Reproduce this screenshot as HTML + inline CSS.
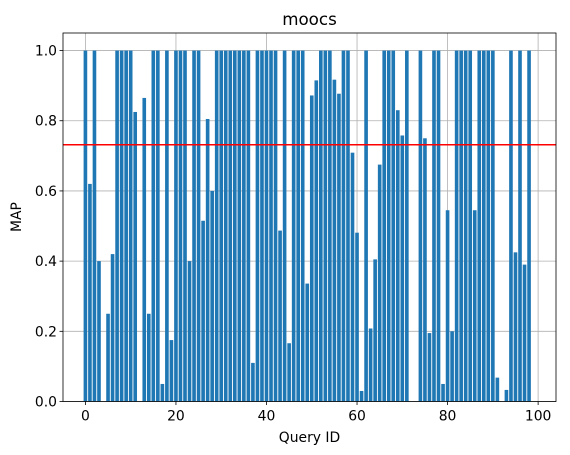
<!DOCTYPE html>
<html><head><meta charset="utf-8"><style>
html,body{margin:0;padding:0;background:#fff}
svg{display:block;font-family:"DejaVu Sans","Liberation Sans",sans-serif}
</style></head><body>
<svg id="chart" width="570" height="455" xmlns="http://www.w3.org/2000/svg">
<text x="309.5" y="25" font-size="16.7" text-anchor="middle">moocs</text>
<text x="309.5" y="442" font-size="13.9" text-anchor="middle">Query ID</text>
<text x="0" y="0" font-size="13.9" text-anchor="middle" transform="translate(21,217) rotate(-90)">MAP</text>
<g id="grid"></g><g id="bars"></g><g id="mean"></g><g id="axes"></g>
</svg>
<script>
const values = [1,0.62,1,0.40,0,0.25,0.42,1,1,1,
1,0.825,0,0.865,0.25,1,1,0.05,1,0.175,
1,1,1,0.40,1,1,0.515,0.805,0.60,1,
1,1,1,1,1,1,1,0.11,1,1,
1,1,1,0.487,1,0.166,1,1,1,0.336,
0.872,0.915,1,1,1,0.917,0.877,1,1,0.709,
0.481,0.03,1,0.208,0.405,0.675,1,1,1,0.83,
0.758,1,0,0,1,0.75,0.195,1,1,0.05,
0.545,0.20,1,1,1,1,0.545,1,1,1,
1,0.068,0,0.033,1,0.425,1,0.39,1,0];
const xTicks = [0,20,40,60,80,100];
const yTicks = [0.0,0.2,0.4,0.6,0.8,1.0];
const yTickLabels = ["0.0","0.2","0.4","0.6","0.8","1.0"];
const NS="http://www.w3.org/2000/svg";
const L=63,R=556,T=33,B=401.5;
const xmin=-4.95,xmax=103.95,ymin=0,ymax=1.05;
function xs(v){return L+(v-xmin)/(xmax-xmin)*(R-L);}
function ys(v){return B-(v-ymin)/(ymax-ymin)*(B-T);}
function mk(tag,attrs,parent){const e=document.createElementNS(NS,tag);for(const k in attrs)e.setAttribute(k,attrs[k]);parent.appendChild(e);return e;}
const grid=document.getElementById('grid'),bars=document.getElementById('bars'),axes=document.getElementById('axes'),meanG=document.getElementById('mean');
xTicks.forEach(t=>{
  const g=mk('line',{x1:xs(t),x2:xs(t),y1:T,y2:B,stroke:'#b0b0b0','stroke-width':0.8},grid);
  
  
  const tk=mk('line',{x1:xs(t),x2:xs(t),y1:B,y2:B+3.5,stroke:'#000','stroke-width':0.8},axes);
  
  
  const lb=mk('text',{x:xs(t),y:B+19,'font-size':13.9,'text-anchor':'middle'},axes);
  lb.textContent=t;
  
  
});
yTicks.forEach((t,i)=>{
  const g=mk('line',{x1:L,x2:R,y1:ys(t),y2:ys(t),stroke:'#b0b0b0','stroke-width':0.8},grid);
  
  
  const tk=mk('line',{x1:L-3.5,x2:L,y1:ys(t),y2:ys(t),stroke:'#000','stroke-width':0.8},axes);
  
  
  const lb=mk('text',{x:L-6,y:ys(t)+5,'font-size':13.9,'text-anchor':'end'},axes);
  lb.textContent=yTickLabels[i];
  
  
});
values.forEach((v,i)=>{
  if(v<=0)return;
  const b=mk('rect',{x:xs(i-0.4),y:ys(v),width:xs(i+0.4)-xs(i-0.4),height:ys(0)-ys(v),fill:'#1f77b4'},bars);
  
  
});
const mean=values.reduce((a,b)=>a+b,0)/values.length;
const ml=mk('line',{x1:L,x2:R,y1:ys(mean),y2:ys(mean),stroke:'#ff0000','stroke-width':1.5},meanG);


const fr=mk('rect',{x:L,y:T,width:R-L,height:B-T,fill:'none',stroke:'#000','stroke-width':0.8},axes);


</script>
</body></html>
